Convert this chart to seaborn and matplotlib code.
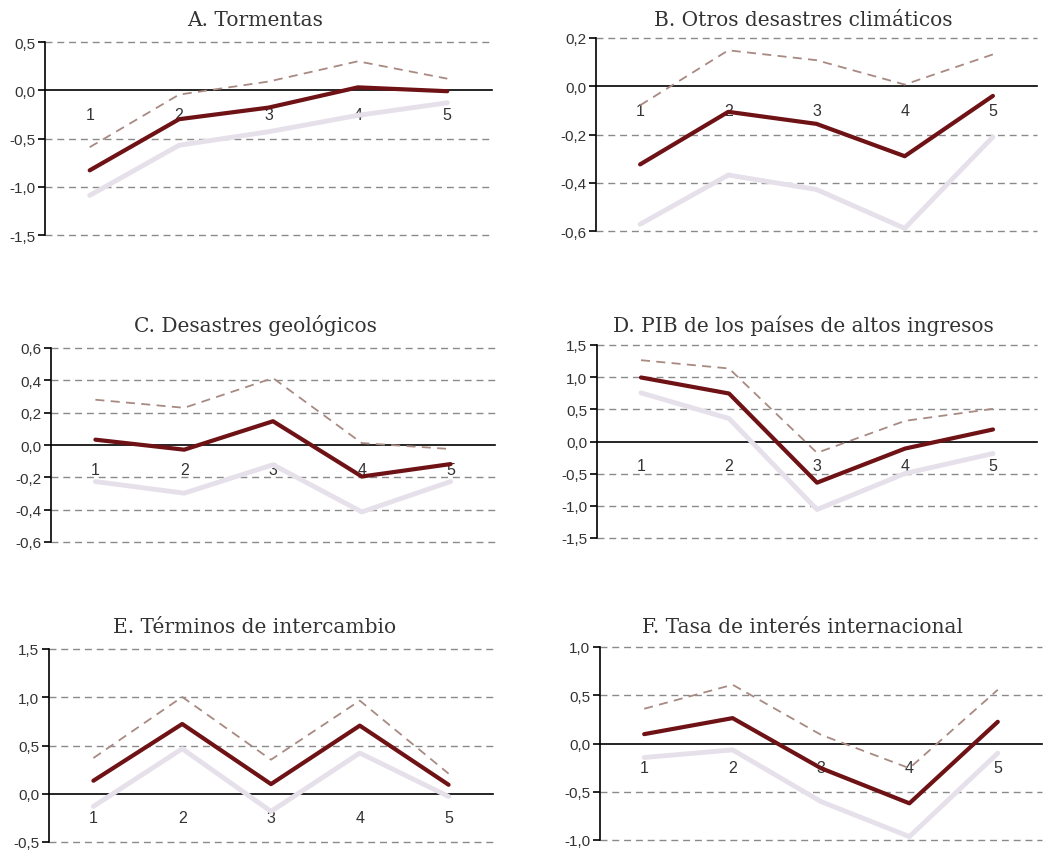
import matplotlib
matplotlib.use("Agg")
import matplotlib.pyplot as plt
import seaborn as sns
import numpy as np
import pandas as pd
from matplotlib.ticker import FuncFormatter, FixedLocator

sns.set_theme(style="white")
plt.rcParams['font.family'] = ['Liberation Sans', 'DejaVu Sans']

periods = [1, 2, 3, 4, 5]

titles = ["A. Tormentas", "B. Otros desastres climáticos", "C. Desastres geológicos",
          "D. PIB de los países de altos ingresos", "E. Términos de intercambio",
          "F. Tasa de interés internacional"]

# central estimate (dark), lower band (light), upper band (dashed)
tormentas_central = [-0.83, -0.30, -0.18, 0.03, -0.01]
tormentas_lower = [-1.09, -0.57, -0.43, -0.26, -0.13]
tormentas_upper = [-0.59, -0.045, 0.09, 0.30, 0.12]

climaticos_central = [-0.324, -0.106, -0.156, -0.29, -0.04]
climaticos_lower = [-0.572, -0.368, -0.428, -0.589, -0.21]
climaticos_upper = [-0.079, 0.149, 0.108, 0.007, 0.132]

geologicos_central = [0.033, -0.029, 0.147, -0.195, -0.118]
geologicos_lower = [-0.226, -0.298, -0.122, -0.414, -0.226]
geologicos_upper = [0.28, 0.23, 0.414, 0.012, -0.025]

pib_central = [0.995, 0.746, -0.64, -0.11, 0.187]
pib_lower = [0.756, 0.357, -1.057, -0.497, -0.187]
pib_upper = [1.264, 1.135, -0.176, 0.321, 0.508]

terminos_central = [0.135, 0.723, 0.10, 0.706, 0.093]
terminos_lower = [-0.131, 0.467, -0.183, 0.422, -0.028]
terminos_upper = [0.37, 1.003, 0.353, 0.965, 0.208]

tasa_central = [0.097, 0.263, -0.256, -0.62, 0.225]
tasa_lower = [-0.145, -0.066, -0.602, -0.965, -0.10]
tasa_upper = [0.36, 0.609, 0.09, -0.256, 0.557]

yticks_a = [-1.5, -1.0, -0.5, 0.0, 0.5]
yticks_b = [-0.6, -0.4, -0.2, 0.0, 0.2]
yticks_c = [-0.6, -0.4, -0.2, 0.0, 0.2, 0.4, 0.6]
yticks_d = [-1.5, -1.0, -0.5, 0.0, 0.5, 1.0, 1.5]
yticks_e = [-0.5, 0.0, 0.5, 1.0, 1.5]
yticks_f = [-1.0, -0.5, 0.0, 0.5, 1.0]

panels = [
    (tormentas_central, tormentas_lower, tormentas_upper, yticks_a),
    (climaticos_central, climaticos_lower, climaticos_upper, yticks_b),
    (geologicos_central, geologicos_lower, geologicos_upper, yticks_c),
    (pib_central, pib_lower, pib_upper, yticks_d),
    (terminos_central, terminos_lower, terminos_upper, yticks_e),
    (tasa_central, tasa_lower, tasa_upper, yticks_f),
]

W, H = 1047, 853
# pixel boxes: left, right, top, bottom
boxes = [(45, 492, 43, 236), (596, 1037, 39, 232),
         (51, 495, 349, 543), (597, 1037, 346, 539),
         (49, 493, 650, 843), (600, 1042, 648, 841)]
title_pos = [(255, 26), (803, 26), (255, 332), (803, 332), (255, 633), (803, 633)]

DARK = "#6e1216"
LIGHT = "#e6e0ea"
DASH = "#a88a82"
GRID = "#8a8a8a"
TXT = "#333333"

fig = plt.figure(figsize=(W / 100, H / 100), dpi=100)
fig.patch.set_facecolor("white")

def fmt(v, pos):
    s = f"{v:.1f}".replace(".", ",")
    if s in ("-0,0",):
        s = "0,0"
    return s

for i, ((cen, low, up, yt), (l, r, t, b)) in enumerate(zip(panels, boxes)):
    ax = fig.add_axes([l / W, 1 - b / H, (r - l) / W, (b - t) / H])
    ax.set_facecolor("white")
    df = pd.DataFrame({"periodo": periods, "central": cen, "inferior": low, "superior": up})
    sns.lineplot(data=df, x="periodo", y="inferior", ax=ax, color=LIGHT, lw=3.5,
                 solid_capstyle="round", zorder=3)
    sns.lineplot(data=df, x="periodo", y="superior", ax=ax, color=DASH, lw=1.3,
                 dashes=False, zorder=4)
    ax.lines[-1].set_dashes([5, 3.5])
    sns.lineplot(data=df, x="periodo", y="central", ax=ax, color=DARK, lw=3.0,
                 solid_capstyle="round", zorder=5)
    ax.set_xlim(0.5, 5.5)
    ax.set_ylim(yt[0], yt[-1])
    ax.set_xlabel("")
    ax.set_ylabel("")
    for s in ["top", "right"]:
        ax.spines[s].set_visible(False)
    ax.spines["bottom"].set_position(("data", 0))
    ax.spines["bottom"].set_color("black")
    ax.spines["bottom"].set_linewidth(1.2)
    ax.spines["bottom"].set_zorder(2)
    ax.spines["left"].set_color("black")
    ax.spines["left"].set_linewidth(1.2)
    ax.set_xticks(periods)
    ax.set_xticklabels([str(p) for p in periods])
    ax.xaxis.set_minor_locator(FixedLocator([0.5, 1.5, 2.5, 3.5, 4.5, 5.5]))
    ax.tick_params(axis="x", which="major", length=0, pad=12, labelsize=11.5, labelcolor=TXT)
    ax.tick_params(axis="x", which="minor", length=5, width=1.2, color="black", direction="out")
    ax.set_yticks(yt)
    ax.yaxis.set_major_formatter(FuncFormatter(fmt))
    ax.tick_params(axis="y", which="major", length=5, width=1.2, color="black",
                   direction="out", left=True, pad=2, labelsize=11, labelcolor=TXT)
    for y in yt:
        if abs(y) > 1e-9:
            ax.axhline(y, color=GRID, lw=1.0, ls=(0, (5, 3.5)), zorder=1, clip_on=False)
    ax.grid(False)
    tx, ty = title_pos[i]
    fig.text(tx / W, 1 - ty / H, titles[i], ha="center", va="baseline",
             fontsize=14.5, color=TXT, family=["DejaVu Serif"])

fig.savefig("out.png", dpi=100, facecolor="white")
